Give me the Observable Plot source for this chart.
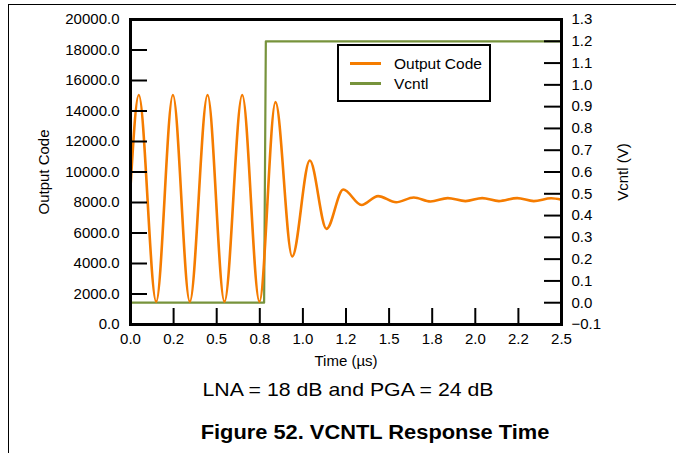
<!DOCTYPE html>
<html>
<head>
<meta charset="utf-8">
<script src="https://cdn.jsdelivr.net/npm/d3@7"></script>
<script src="https://cdn.jsdelivr.net/npm/@observablehq/plot@0.6"></script>
<style>
  body { margin: 0; background: #fff; font-family: "Liberation Sans", Arial, sans-serif; }
  #page { position: relative; width: 676px; height: 453px; overflow: hidden; background: #fff; }
  #border { position: absolute; left: 8px; top: 4px; right: -10px; bottom: -10px;
            border-top: 1.5px solid #000; border-left: 1.5px solid #000; }
  #chart { position: absolute; left: 0; top: 0; }
  .legend { position: absolute; left: 337px; top: 44px; width: 150px; height: 54px;
            border: 2px solid #000; background: #fff; }
  .legend .sw { position: absolute; left: 11px; width: 31px; height: 2.5px; }
  .legend .lb { position: absolute; left: 55px; font-size: 15.5px; line-height: 16px; color: #000; white-space: nowrap; }
  .cap { position: absolute; white-space: nowrap; line-height: 1; color: #000;
         transform-origin: 50% 50%; transform: translateX(-50%) scaleX(1.12); }
</style>
</head>
<body>
<div id="page">
  <div id="border"></div>
  <div id="chart"></div>
  <div class="legend" id="legend"></div>
  <div class="cap" style="left:347.5px; top:380px; font-size:19px;">LNA = 18 dB and PGA = 24 dB</div>
  <div class="cap" style="left:375px; top:422.5px; font-size:19.5px; font-weight:bold;">Figure 52. VCNTL Response Time</div>
</div>
<script>
// ---- data ----
const codeTime = [0, 0.048, 0.149, 0.246, 0.344, 0.447, 0.545, 0.648, 0.748, 0.841, 0.938, 1.040, 1.137, 1.234, 1.340, 1.436, 1.541, 1.643, 1.740, 1.840, 1.943, 2.040, 2.137, 2.243, 2.339, 2.440, 2.500];
const codeValue = [9000, 15050, 1500, 15050, 1500, 15050, 1500, 15050, 1500, 14580, 4460, 10750, 6270, 8850, 7840, 8420, 8020, 8330, 8070, 8290, 8090, 8290, 8090, 8290, 8090, 8280, 8180];

const vcntlTime = [0, 0.775, 0.785, 2.5];
const vcntlVolts = [0, 0, 1.2, 1.2];

const xTicks = [0, 0.25, 0.5, 0.75, 1.0, 1.25, 1.5, 1.75, 2.0, 2.25, 2.5];
const xTickLabels = ["0.0", "0.2", "0.5", "0.8", "1.0", "1.2", "1.5", "1.8", "2.0", "2.2", "2.5"];
const leftTicks = [0, 2000, 4000, 6000, 8000, 10000, 12000, 14000, 16000, 18000, 20000];
const leftTickLabels = ["0.0", "2000.0", "4000.0", "6000.0", "8000.0", "10000.0", "12000.0", "14000.0", "16000.0", "18000.0", "20000.0"];
const rightTicks = [-0.1, 0.0, 0.1, 0.2, 0.3, 0.4, 0.5, 0.6, 0.7, 0.8, 0.9, 1.0, 1.1, 1.2, 1.3];
const rightTickLabels = ["\u22120.1", "0.0", "0.1", "0.2", "0.3", "0.4", "0.5", "0.6", "0.7", "0.8", "0.9", "1.0", "1.1", "1.2", "1.3"];

const codeDomain = [0, 20000];
const voltDomain = [-0.1, 1.3];
const seriesNames = ["Output Code", "Vcntl"];
const seriesColors = ["#f57c00", "#77933c"];

// ---- build ----
const toCode = v => (v - voltDomain[0]) / (voltDomain[1] - voltDomain[0]) * (codeDomain[1] - codeDomain[0]) + codeDomain[0];
const codeRows = codeTime.map((t, i) => ({t, v: codeValue[i]}));
const vRows = vcntlTime.map((t, i) => ({t, v: toCode(vcntlVolts[i])}));
const rightCodes = rightTicks.map(toCode);

const xLab = new Map(xTicks.map((t, i) => [t, xTickLabels[i]]));
const lLab = new Map(leftTicks.map((t, i) => [t, leftTickLabels[i]]));
const rLab = new Map(rightCodes.map((c, i) => [c, rightTickLabels[i]]));

const chart = Plot.plot({
  width: 676, height: 380,
  marginLeft: 130, marginRight: 115, marginTop: 19, marginBottom: 56,
  style: {fontFamily: "Liberation Sans, Arial, sans-serif", fontSize: "15px", color: "#000", background: "transparent", overflow: "visible"},
  x: {type: "linear", domain: [0, 2.5]},
  y: {type: "linear", domain: codeDomain},
  marks: [
    Plot.line(vRows, {x: "t", y: "v", stroke: seriesColors[1], strokeWidth: 2.2}),
    Plot.line(codeRows, {x: "t", y: "v", stroke: seriesColors[0], strokeWidth: 2.6, curve: "monotone-x"}),
    // inward tick marks
    Plot.axisX(xTicks.slice(1, -1), {anchor: "bottom", tickSize: 16, dy: -16, tickFormat: () => "", label: null, strokeWidth: 2}),
    Plot.axisY(leftTicks.slice(1, -1), {anchor: "left", tickSize: 17, dx: 17, tickFormat: () => "", label: null, strokeWidth: 2}),
    Plot.axisY(rightCodes.slice(1, -1), {anchor: "right", tickSize: 18, dx: -18, tickFormat: () => "", label: null, strokeWidth: 2}),
    // labels
    Plot.axisX(xTicks, {anchor: "bottom", tickSize: 0, tickPadding: 9, tickFormat: d => xLab.get(d),
      label: "Time (µs)", labelAnchor: "center", labelOffset: 41, labelArrow: "none"}),
    Plot.axisY(leftTicks, {anchor: "left", tickSize: 0, tickPadding: 11, tickFormat: d => lLab.get(d),
      label: "Output Code", labelAnchor: "center", labelOffset: 92, labelArrow: "none"}),
    Plot.axisY(rightCodes, {anchor: "right", tickSize: 0, tickPadding: 10, tickFormat: d => rLab.get(d),
      label: "Vcntl (V)", labelAnchor: "center", labelOffset: 66, labelArrow: "none"}),
    Plot.frame({stroke: "#000", strokeWidth: 3})
  ]
});
document.getElementById("chart").appendChild(chart);

// legend
const legend = document.getElementById("legend");
const rowY = [17, 37];
seriesNames.forEach((name, i) => {
  const sw = document.createElement("div");
  sw.className = "sw";
  sw.style.top = (rowY[i] - 1) + "px";
  sw.style.background = seriesColors[i];
  legend.appendChild(sw);
  const lb = document.createElement("div");
  lb.className = "lb";
  lb.style.top = (rowY[i] - 8 + 1) + "px";
  lb.textContent = name;
  legend.appendChild(lb);
});
</script>
</body>
</html>
